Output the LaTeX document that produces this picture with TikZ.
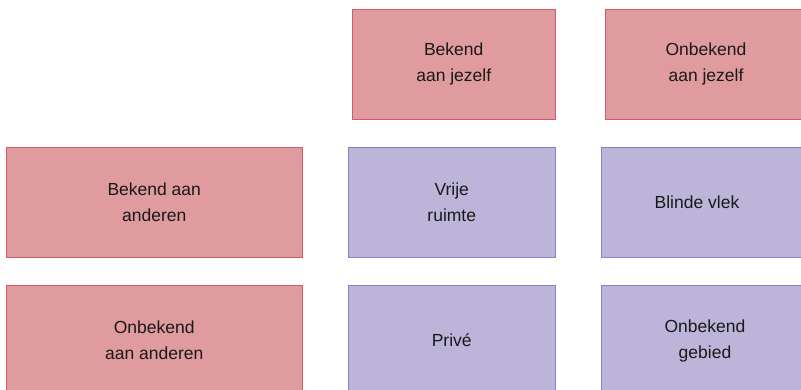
\documentclass[tikz,border=0pt]{standalone}
\usepackage{fontspec}
\setmainfont{Liberation Sans}
\definecolor{redfill}{HTML}{E09B9E}
\definecolor{redline}{HTML}{D35A6C}
\definecolor{purpfill}{HTML}{BDB4DA}
\definecolor{purpline}{HTML}{8B80C3}
\begin{document}
\begin{tikzpicture}[x=1pt,y=-1pt,
  boxbase/.style={draw, line width=1pt, inner sep=0pt, align=center,
    font=\fontsize{17.5}{26}\selectfont, text=black!90},
  redbox/.style={boxbase, fill=redfill, draw=redline},
  purpbox/.style={boxbase, fill=purpfill, draw=purpline},
  lbl/.style={align=center, inner sep=0pt, font=\fontsize{17.5}{26}\selectfont, text=black!90}]
\useasboundingbox (0,0) rectangle (801,389);
% top row
\node[redbox, minimum width=203.5pt, minimum height=109.5pt] (bj) at (453.75,64.25) {Bekend\\aan jezelf};
\node[redbox, minimum width=215pt, minimum height=109.5pt] (oj) at (712.5,64.25) {};
\node[lbl] (ojt) at (706,64.25) {Onbekend\\aan jezelf};
% row 2
\node[redbox, minimum width=296.5pt, minimum height=110pt] (ba) at (154.25,202.5) {Bekend aan\\anderen};
\node[purpbox, minimum width=207.5pt, minimum height=110pt] (vr) at (451.75,202.5) {Vrije\\ruimte};
\node[purpbox, minimum width=219pt, minimum height=110pt] (bv) at (710.5,202.5) {};
\node[lbl] (bvt) at (697,202.5) {Blinde vlek};
% row 3
\node[redbox, minimum width=296.5pt, minimum height=110pt] (oa) at (154.25,340.6) {Onbekend\\aan anderen};
\node[purpbox, minimum width=207.5pt, minimum height=110pt] (pr) at (451.75,340.6) {Privé};
\node[purpbox, minimum width=219pt, minimum height=110pt] (og) at (710.5,340.6) {};
\node[lbl] (ogt) at (705,340.6) {Onbekend\\gebied};
\end{tikzpicture}
\end{document}
